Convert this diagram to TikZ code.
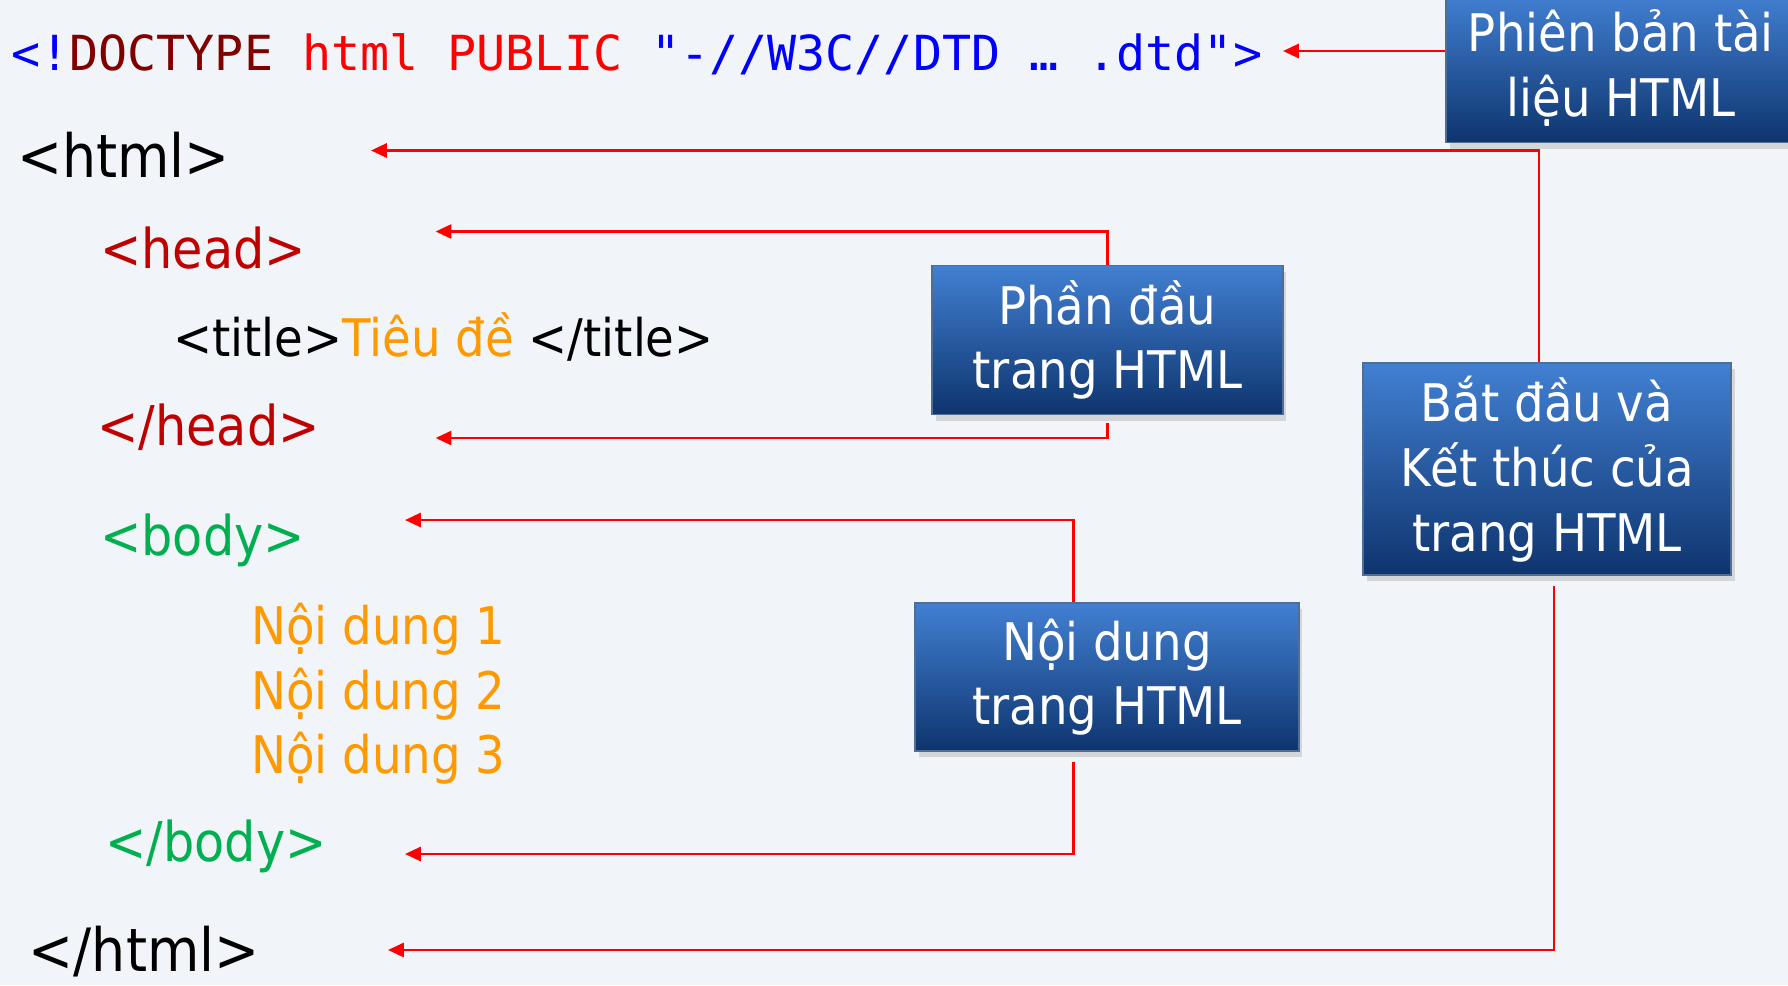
\documentclass[tikz,border=0pt]{standalone}
\usepackage{fontspec}
\setmainfont{DejaVu Sans Condensed}
\newfontfamily\codefont{DejaVu Sans Mono}
\usetikzlibrary{arrows.meta,shadows}

\definecolor{pagebg}{RGB}{241,244,249}
\definecolor{boxtop}{RGB}{66,128,210}
\definecolor{boxbot}{RGB}{14,52,110}
\definecolor{boxline}{RGB}{79,110,150}
\definecolor{docblue}{RGB}{0,0,255}
\definecolor{docmaroon}{RGB}{128,0,0}
\definecolor{headred}{RGB}{192,0,0}
\definecolor{bodygreen}{RGB}{0,176,80}
\definecolor{textorange}{RGB}{255,153,0}

\tikzset{
  codeline/.style={anchor=base west, inner sep=0pt},
  bigtag/.style={codeline, font=\fontsize{34}{40}\selectfont},
  midtag/.style={codeline, font=\fontsize{31.2}{37}\selectfont},
  smalltext/.style={codeline, font=\fontsize{29.5}{36}\selectfont},
  infobox/.style={draw=boxline, line width=0.8pt, top color=boxtop, bottom color=boxbot,
    text=white, align=center, inner sep=0pt, font=\fontsize{29.5}{36.8}\selectfont,
    drop shadow={shadow xshift=2pt, shadow yshift=-3.5pt, opacity=0.25}},
  redarrow/.style={red, line width=1.5pt, -{Triangle[length=9pt,width=8pt]}}
}

\begin{document}
\begin{tikzpicture}[x=0.02cm,y=-0.02cm]

\fill[pagebg] (0,0) rectangle (1788,985);
\useasboundingbox (0,0) rectangle (1788,985);

\begin{scope}
\node[codeline, font=\codefont\fontsize{27.5}{32}\selectfont] (doctype) at (11,70.7)
  {{\color{docblue}<!}{\color{docmaroon}DOCTYPE} {\color{red}html PUBLIC} {\color{docblue}"-//W3C//DTD … .dtd">}};

\node[bigtag] (htmlopen) at (17,177) {<html>};
\node[midtag, text=headred] (headopen) at (100,268) {<head>};
\node[smalltext] (titleline) at (173,356) {<title>{\color{textorange}Tiêu đề} </title>};
\node[midtag, text=headred] (headclose) at (97,445) {</head>};
\node[midtag, text=bodygreen] (bodyopen) at (100,555) {<body>};
\node[smalltext, text=textorange] (line1) at (251,644) {Nội dung 1};
\node[smalltext, text=textorange] (line2) at (251,709) {Nội dung 2};
\node[smalltext, text=textorange] (line3) at (251,773) {Nội dung 3};
\node[midtag, text=bodygreen] (bodyclose) at (105,861) {</body>};
\node[bigtag] (htmlclose) at (28.5,971) {</html>};
\end{scope}

\begin{scope}
\node[infobox, minimum width=7cm, minimum height=2.98cm] (verbox) at (1621,68) {Phiên bản tài\\liệu HTML};
\node[infobox, minimum width=7.02cm, minimum height=2.98cm] (headbox) at (1107.5,340) {Phần đầu\\trang HTML};
\node[infobox, minimum width=7.36cm, minimum height=4.24cm] (startbox) at (1547,469) {Bắt đầu và\\Kết thúc của\\trang HTML};
\node[infobox, minimum width=7.68cm, minimum height=2.96cm] (bodybox) at (1107,677) {Nội dung\\trang HTML};
\end{scope}

\coordinate (tipDoc) at (1283,51);
\coordinate (tipHtml) at (371,150.5);
\coordinate (tipHead) at (435.6,231.5);
\coordinate (tipEndHead) at (435.6,438);
\coordinate (tipBody) at (405,520);
\coordinate (tipEndBody) at (405,854);
\coordinate (tipEndHtml) at (388,950);

\draw[redarrow] (verbox.west |- tipDoc) -- (tipDoc);
\draw[redarrow] (startbox.north) ++(-8,0) |- (tipHtml);
\draw[redarrow] (startbox.south) ++(7,10) |- (tipEndHtml);
\draw[redarrow] (headbox.north) |- (tipHead);
\draw[redarrow] (headbox.south) ++(0,8) |- (tipEndHead);
\draw[redarrow] (bodybox.north west) ++(159,0) |- (tipBody);
\draw[redarrow] (bodybox.south west) ++(159,10) |- (tipEndBody);

\end{tikzpicture}
\end{document}
